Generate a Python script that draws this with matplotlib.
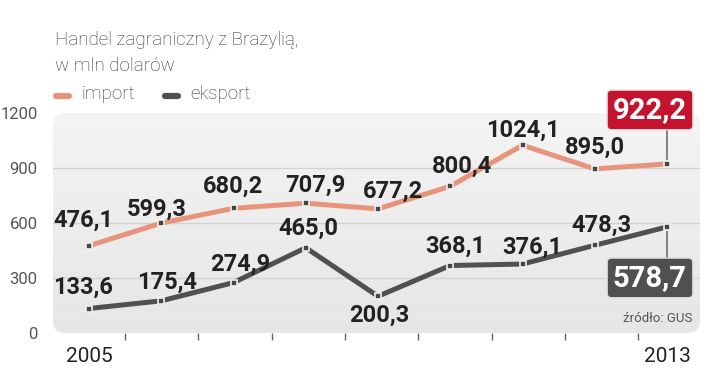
"""
Handel zagraniczny z Brazylią - import / eksport 2005-2013
"""
import numpy as np
import matplotlib
matplotlib.use('Agg')
import matplotlib.pyplot as plt
from matplotlib.patches import FancyBboxPatch
from matplotlib.lines import Line2D

years = [2005, 2006, 2007, 2008, 2009, 2010, 2011, 2012, 2013]
import_vals = [476.1, 599.3, 680.2, 707.9, 677.2, 800.4, 1024.1, 895.0, 922.2]
export_vals = [133.6, 175.4, 274.9, 465.0, 200.3, 368.1, 376.1, 478.3, 578.7]
y_ticks = [0, 300, 600, 900, 1200]
x_labels = [2005, 2013]

IMPORT_COLOR = '#e8947c'
EXPORT_COLOR = '#505050'
RED_BOX = '#c4122f'
NUM_FONT = ['Roboto', 'DejaVu Sans']
TXT_FONT = ['Roboto', 'DejaVu Sans']

# label offsets in pixels (dx, dy) relative to the data point
import_offsets = [(-6, 25), (-5, 14), (-1, 22), (10, 18), (15, 18), (12, 20), (0, 15), (0, 22)]
export_offsets = [(-6, 21), (6, 19), (7, 18), (3, 19), (1, -19), (5, 19), (10, 17), (7, 20)]


def fmt(v):
    return f"{v:.1f}".replace('.', ',')


fig = plt.figure(figsize=(7.2, 3.71), dpi=100)
W, H = 720, 371
ax_left, ax_right, ax_top, ax_bottom = 53, 700, 113, 333
ax = fig.add_axes([ax_left / W, 1 - ax_bottom / H,
                   (ax_right - ax_left) / W, (ax_bottom - ax_top) / H])
ax.set_facecolor('none')
for s in ax.spines.values():
    s.set_visible(False)

per_year = 72.25
ax.set_xlim(2005 - 36 / per_year, 2013 + 33 / per_year)
ax.set_ylim(0, 1200)

# Rounded gradient background
aspect = (ax_right - ax_left) / (ax_bottom - ax_top)
bg = FancyBboxPatch((0, 0), 1, 1, boxstyle="round,pad=0,rounding_size=0.02",
                    mutation_aspect=aspect, transform=ax.transAxes,
                    facecolor='none', edgecolor='none', zorder=0)
ax.add_patch(bg)
grad = np.linspace(0, 1, 256).reshape(-1, 1)
cmap = matplotlib.colors.LinearSegmentedColormap.from_list('bg', ['#f4f4f4', '#e6e6e6'])
im = ax.imshow(grad, extent=[0, 1, 0, 1], transform=ax.transAxes, aspect='auto',
               cmap=cmap, zorder=0, origin='upper')
im.set_clip_path(bg)

# Gridlines
for yv in y_ticks[1:-1]:
    ax.axhline(yv, color='#d2d2d2', lw=1, zorder=1)

# Ticks
ax.set_yticks(y_ticks)
ax.set_yticklabels([str(t) for t in y_ticks], fontsize=12, color='#555555',
                   family=TXT_FONT)
ax.tick_params(axis='y', length=0, pad=11)
ax.set_xticks([2005.5 + i * 73.3 / per_year for i in range(len(years) - 1)])
ax.set_xticklabels([])
ax.tick_params(axis='x', length=5, width=1, color='#666666', direction='out', pad=2)
for yr in x_labels:
    ax.text(yr, -0.105, str(yr), transform=ax.get_xaxis_transform(), ha='center',
            va='center', fontsize=15, color='#222222', family=TXT_FONT)

# Lines
ax.plot(years, import_vals, color=IMPORT_COLOR, lw=3.6, zorder=3, solid_capstyle='round')
ax.plot(years, export_vals, color=EXPORT_COLOR, lw=3.6, zorder=3, solid_capstyle='round')
for vals in (import_vals, export_vals):
    ax.plot(years, vals, ls='none', marker='s', ms=4.5, mfc='#454545', mec='#f0f0f0',
            mew=1.2, zorder=4)

# Value labels
for x, v, off in zip(years[:-1], import_vals[:-1], import_offsets):
    ax.annotate(fmt(v), (x, v), xytext=off, textcoords='offset pixels', ha='center',
                va='center', fontsize=17, fontweight='bold', color='#222222',
                family=NUM_FONT, zorder=5)
for x, v, off in zip(years[:-1], export_vals[:-1], export_offsets):
    ax.annotate(fmt(v), (x, v), xytext=off, textcoords='offset pixels', ha='center',
                va='center', fontsize=17, fontweight='bold', color='#222222',
                family=NUM_FONT, zorder=5)

# Vertical connectors to the boxed last values
for v, dy in ((import_vals[-1], 40), (export_vals[-1], -36)):
    ax.annotate('', (years[-1], v), xytext=(0, dy), textcoords='offset pixels',
                arrowprops=dict(arrowstyle='-', color='#555555', lw=1,
                                shrinkA=0, shrinkB=3), zorder=2)

# Boxed last values
for v, dy, fc in ((import_vals[-1], 54, RED_BOX), (export_vals[-1], -51, EXPORT_COLOR)):
    ax.annotate(fmt(v), (years[-1], v), xytext=(-17, dy),
                textcoords='offset pixels', ha='center', va='center', fontsize=21,
                fontweight='bold', color='white', family=NUM_FONT, zorder=6,
                bbox=dict(boxstyle='round,pad=0.2,rounding_size=0.15', fc=fc,
                          ec='#dddddd', lw=1))

# Title
fig.text(55 / W, 1 - 40 / H, 'Handel zagraniczny z Brazylią,', fontsize=13.5, color='#333333',
         family=TXT_FONT, fontweight='light', va='center', ha='left')
fig.text(55 / W, 1 - 66 / H, 'w mln dolarów', fontsize=13.5, color='#333333',
         family=TXT_FONT, fontweight='light', va='center', ha='left')

# Legend
fig.add_artist(Line2D([56 / W, 69 / W], [1 - 96 / H] * 2, color=IMPORT_COLOR, lw=4.5,
                      solid_capstyle='round'))
fig.text(82 / W, 1 - 94 / H, 'import', fontsize=13.5, color='#333333', family=TXT_FONT,
         fontweight='light', va='center', ha='left')
fig.add_artist(Line2D([165 / W, 178 / W], [1 - 96 / H] * 2, color=EXPORT_COLOR, lw=4.5,
                      solid_capstyle='round'))
fig.text(190 / W, 1 - 94 / H, 'eksport', fontsize=13.5, color='#333333', family=TXT_FONT,
         fontweight='light', va='center', ha='left')

# Source
fig.text(692 / W, 1 - 319 / H, 'źródło: GUS', fontsize=9.5, color='#555555',
         family=TXT_FONT, va='center', ha='right')

fig.savefig('out.png', dpi=100)
